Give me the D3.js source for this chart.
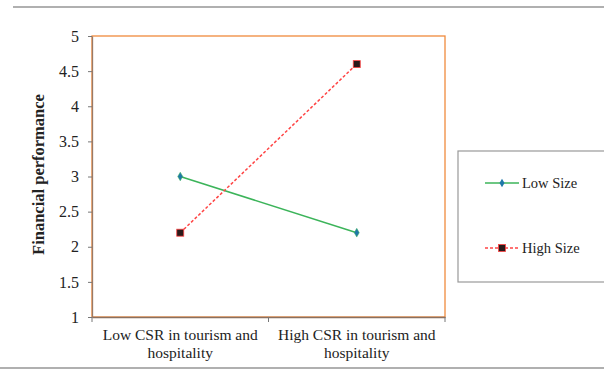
<!DOCTYPE html>
<html><head><meta charset="utf-8">
<script src="https://cdn.jsdelivr.net/npm/d3@7"></script>
<style>body{margin:0;background:#fff}svg{display:block}</style>
</head><body>
<svg id="c" width="604" height="371"></svg>
<script>
const categories = ["Low CSR in tourism and hospitality", "High CSR in tourism and hospitality"];
const categoryLines = [["Low CSR in tourism and", "hospitality"], ["High CSR in tourism and", "hospitality"]];
const seriesNames = ["Low Size", "High Size"];
const lowSize = [3.0, 2.2];
const highSize = [2.2, 4.6];
const yTicks = [1, 1.5, 2, 2.5, 3, 3.5, 4, 4.5, 5];
const yTickLabels = ["1", "1.5", "2", "2.5", "3", "3.5", "4", "4.5", "5"];

const svg = d3.select("#c");
const font = "'Liberation Serif', 'Times New Roman', serif";
const L = 92, R = 445, T = 36, B = 317;

// separators
svg.append("line").attr("x1", 13).attr("x2", 604).attr("y1", 7).attr("y2", 7).attr("stroke", "#b0b0b0").attr("stroke-width", 2);
svg.append("line").attr("x1", 0).attr("x2", 604).attr("y1", 368).attr("y2", 368).attr("stroke", "#b0b0b0").attr("stroke-width", 2);

const x = d3.scaleBand().domain(categories).range([L, R]);
const y = d3.scaleLinear().domain([1, 5]).range([B, T]);

// plot border
svg.append("rect").attr("x", L).attr("y", T).attr("width", R - L).attr("height", B - T)
  .attr("fill", "none").attr("stroke", "#f08a3c").attr("stroke-width", 1.3);

// y axis
const yAxis = svg.append("g").attr("transform", `translate(${L},0)`)
  .call(d3.axisLeft(y).tickValues(yTicks).tickFormat((d, i) => yTickLabels[i]).tickSize(4).tickPadding(9).tickSizeOuter(0));
yAxis.select(".domain").attr("stroke", "#9a7a66").attr("stroke-width", 1.3);
yAxis.selectAll(".tick line").attr("stroke", "#777");
yAxis.selectAll("text").attr("font-family", font).attr("font-size", 16).attr("fill", "#222");

// x axis
const xAxis = svg.append("g").attr("transform", `translate(0,${B})`)
  .call(d3.axisBottom(x).tickSize(0).tickFormat(""));
xAxis.select(".domain").attr("stroke", "#8a7060").attr("stroke-width", 1.3);
// category boundary ticks
const bounds = [L, x(categories[1]), R];
svg.selectAll(".xb").data(bounds).join("line").attr("class", "xb")
  .attr("x1", d => d).attr("x2", d => d).attr("y1", B).attr("y2", B + 5).attr("stroke", "#777");
categories.forEach((c, i) => {
  const t = svg.append("text").attr("x", x(c) + x.bandwidth() / 2).attr("y", 340)
    .attr("text-anchor", "middle").attr("font-family", font).attr("font-size", 15.5).attr("fill", "#222");
  categoryLines[i].forEach((ln, j) => t.append("tspan").attr("x", x(c) + x.bandwidth() / 2).attr("dy", j ? 18 : 0).text(ln));
});

// y label
svg.append("text").attr("transform", `translate(44,${(T + B) / 2 - 2}) rotate(-90)`)
  .attr("text-anchor", "middle").attr("font-family", font).attr("font-size", 16.5).attr("font-weight", "bold")
  .attr("fill", "#222").text("Financial performance");

const cx = c => x(c) + x.bandwidth() / 2;
const line = d3.line().x((d, i) => cx(categories[i])).y(d => y(d));

// series
svg.append("path").datum(lowSize).attr("d", line).attr("fill", "none").attr("stroke", "#3cb45a").attr("stroke-width", 1.5);
svg.append("path").datum(highSize).attr("d", line).attr("fill", "none").attr("stroke", "#ff4444").attr("stroke-width", 1.5).attr("stroke-dasharray", "3,2");

const diamond = d3.symbol().type(d3.symbolDiamond).size(22);
svg.selectAll(".dm").data(lowSize).join("path").attr("class", "dm")
  .attr("transform", (d, i) => `translate(${cx(categories[i])},${y(d)})`).attr("d", diamond)
  .attr("fill", "#1f78a8").attr("stroke", "#3cb45a").attr("stroke-width", 0.5);
svg.selectAll(".sq").data(highSize).join("rect").attr("class", "sq")
  .attr("x", (d, i) => cx(categories[i]) - 3.5).attr("y", d => y(d) - 3.5).attr("width", 7).attr("height", 7)
  .attr("fill", "#2a1a1a").attr("stroke", "#ff4444").attr("stroke-width", 0.8);

// legend
svg.append("rect").attr("x", 458).attr("y", 151).attr("width", 160).attr("height", 131)
  .attr("fill", "#fff").attr("stroke", "#999").attr("stroke-width", 1.2);
const legY = [183, 248];
svg.append("line").attr("x1", 485).attr("x2", 519).attr("y1", legY[0]).attr("y2", legY[0]).attr("stroke", "#3cb45a").attr("stroke-width", 1.5);
svg.append("path").attr("transform", `translate(502,${legY[0]})`).attr("d", diamond).attr("fill", "#1f78a8");
svg.append("line").attr("x1", 485).attr("x2", 519).attr("y1", legY[1]).attr("y2", legY[1]).attr("stroke", "#ff4444").attr("stroke-width", 1.5).attr("stroke-dasharray", "3,2");
svg.append("rect").attr("x", 498.5).attr("y", legY[1] - 3.5).attr("width", 7).attr("height", 7).attr("fill", "#2a1a1a").attr("stroke", "#ff4444").attr("stroke-width", 0.8);
seriesNames.forEach((n, i) => svg.append("text").attr("x", 522).attr("y", legY[i] + 5)
  .attr("font-family", font).attr("font-size", 14.5).attr("fill", "#222").text(n));
</script>
</body></html>
